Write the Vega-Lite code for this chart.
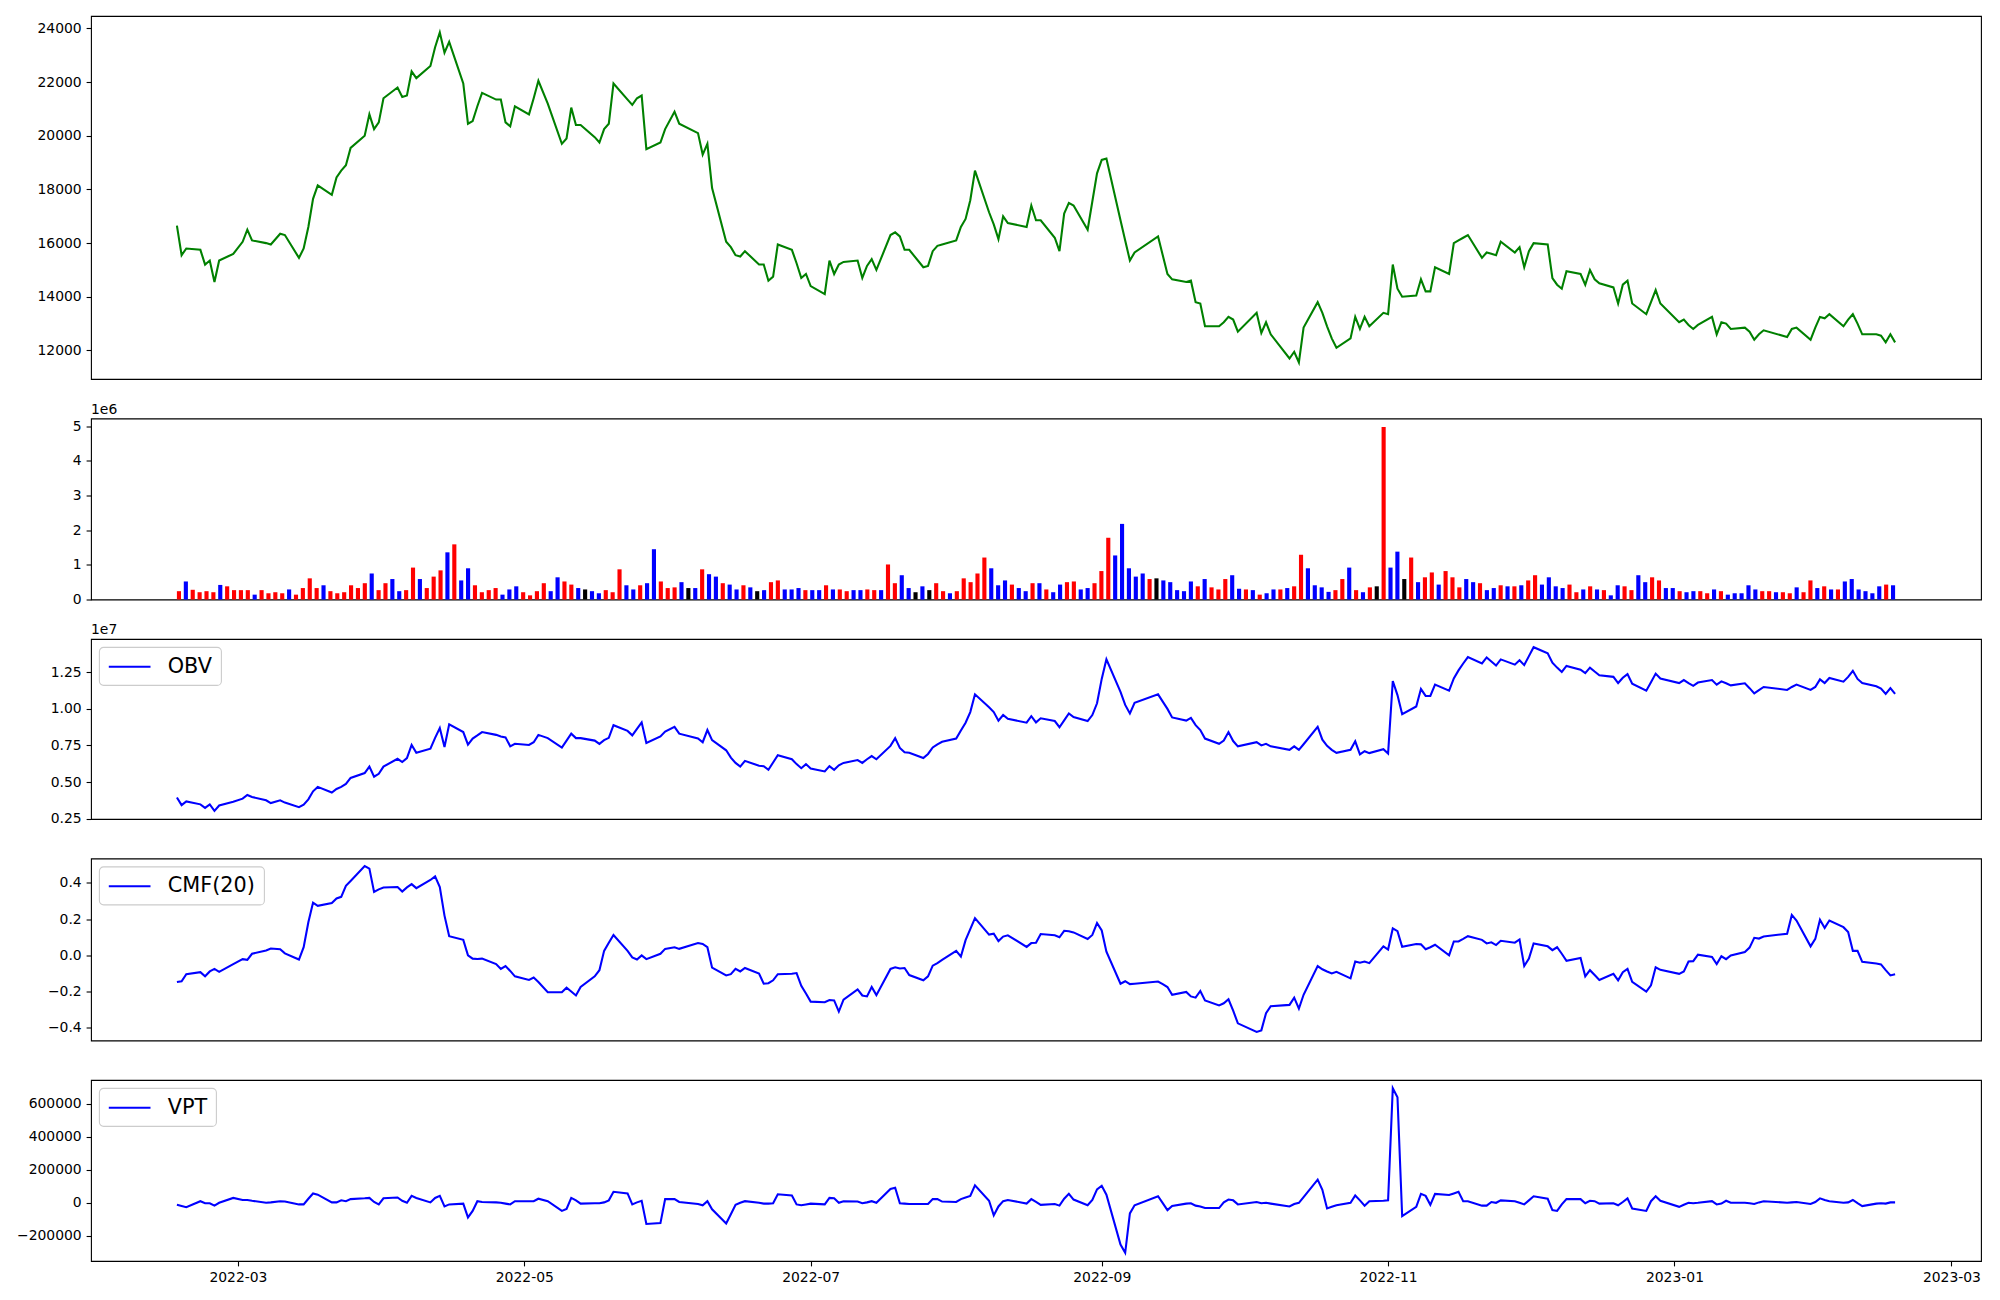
{
"$schema":"https://vega.github.io/schema/vega-lite/v6.json",
"background":"white",
"padding":{"left":15,"top":15,"right":20,"bottom":10},
"config":{
"font":"DejaVu Sans",
"view":{"stroke":"black","strokeWidth":1.1},
"axis":{"labelFont":"DejaVu Sans","labelFontSize":13.9,"labelColor":"black","tickColor":"black","tickSize":4.9,"tickWidth":1.1,"labelPadding":4.9,"domain":false,"grid":false,"title":null},
"legend":{"title":null,"orient":"top-left","offset":8.2,"padding":8.3,"fillColor":"rgba(255,255,255,0.8)","strokeColor":"#cccccc","strokeWidth":1.1,"cornerRadius":4.2,"symbolType":"M-1,0H3.17","symbolSize":400,"symbolStrokeWidth":2.08,"labelFontSize":20.8,"labelFont":"DejaVu Sans","labelColor":"black","labelOffset":37.4},
"title":{"font":"DejaVu Sans","fontSize":13.9,"fontWeight":"normal","color":"black","anchor":"start","frame":"group","baseline":"bottom","offset":2}
},
"data":{"values":[
{"date":"2022-02-16","close":16650,"volume":240000,"candle":"up","obv":3960000,"cmf":-0.148,"vpt":-12300},
{"date":"2022-02-17","close":15550,"volume":520000,"candle":"down","obv":3440000,"cmf":-0.144,"vpt":-19700},
{"date":"2022-02-18","close":15800,"volume":280000,"candle":"up","obv":3690000,"cmf":-0.105,"vpt":-27000},
{"date":"2022-02-21","close":15750,"volume":210000,"candle":"up","obv":3490000,"cmf":-0.094,"vpt":9800},
{"date":"2022-02-22","close":15200,"volume":240000,"candle":"up","obv":3250000,"cmf":-0.117,"vpt":-2500},
{"date":"2022-02-23","close":15350,"volume":210000,"candle":"up","obv":3490000,"cmf":-0.090,"vpt":-2500},
{"date":"2022-02-24","close":14550,"volume":420000,"candle":"down","obv":3050000,"cmf":-0.076,"vpt":-17200},
{"date":"2022-02-25","close":15350,"volume":380000,"candle":"up","obv":3410000,"cmf":-0.092,"vpt":0},
{"date":"2022-02-28","close":15600,"volume":270000,"candle":"up","obv":3660000,"cmf":-0.049,"vpt":29500},
{"date":"2022-03-02","close":16050,"volume":270000,"candle":"up","obv":3880000,"cmf":-0.022,"vpt":17200},
{"date":"2022-03-03","close":16500,"volume":270000,"candle":"up","obv":4130000,"cmf":-0.026,"vpt":17200},
{"date":"2022-03-04","close":16100,"volume":140000,"candle":"down","obv":3990000,"cmf":0.008,"vpt":12300},
{"date":"2022-03-07","close":16000,"volume":270000,"candle":"up","obv":3770000,"cmf":0.026,"vpt":0},
{"date":"2022-03-08","close":15950,"volume":180000,"candle":"up","obv":3580000,"cmf":0.037,"vpt":2500},
{"date":"2022-03-10","close":16350,"volume":210000,"candle":"up","obv":3770000,"cmf":0.033,"vpt":9800},
{"date":"2022-03-11","close":16300,"volume":180000,"candle":"up","obv":3610000,"cmf":0.010,"vpt":7400},
{"date":"2022-03-14","close":15450,"volume":290000,"candle":"down","obv":3300000,"cmf":-0.024,"vpt":-9800},
{"date":"2022-03-15","close":15800,"volume":140000,"candle":"up","obv":3470000,"cmf":0.044,"vpt":-9800},
{"date":"2022-03-16","close":16600,"volume":330000,"candle":"up","obv":3830000,"cmf":0.182,"vpt":24600},
{"date":"2022-03-17","close":17650,"volume":610000,"candle":"up","obv":4380000,"cmf":0.291,"vpt":56600},
{"date":"2022-03-18","close":18150,"volume":330000,"candle":"up","obv":4680000,"cmf":0.273,"vpt":49200},
{"date":"2022-03-21","close":17800,"volume":410000,"candle":"down","obv":4300000,"cmf":0.289,"vpt":2500},
{"date":"2022-03-22","close":18450,"volume":240000,"candle":"up","obv":4540000,"cmf":0.314,"vpt":2500},
{"date":"2022-03-23","close":18700,"volume":180000,"candle":"up","obv":4680000,"cmf":0.323,"vpt":14800},
{"date":"2022-03-24","close":18900,"volume":210000,"candle":"up","obv":4880000,"cmf":0.384,"vpt":9800},
{"date":"2022-03-25","close":19550,"volume":410000,"candle":"up","obv":5290000,"cmf":0.411,"vpt":22200},
{"date":"2022-03-28","close":20000,"volume":330000,"candle":"up","obv":5620000,"cmf":0.493,"vpt":27100},
{"date":"2022-03-29","close":20800,"volume":470000,"candle":"up","obv":6060000,"cmf":0.479,"vpt":29500},
{"date":"2022-03-30","close":20250,"volume":750000,"candle":"down","obv":5370000,"cmf":0.350,"vpt":4900},
{"date":"2022-03-31","close":20500,"volume":270000,"candle":"up","obv":5570000,"cmf":0.364,"vpt":-9800},
{"date":"2022-04-01","close":21400,"volume":470000,"candle":"up","obv":6060000,"cmf":0.375,"vpt":27100},
{"date":"2022-04-04","close":21800,"volume":590000,"candle":"down","obv":6590000,"cmf":0.377,"vpt":32000},
{"date":"2022-04-05","close":21450,"volume":240000,"candle":"down","obv":6370000,"cmf":0.352,"vpt":12300},
{"date":"2022-04-06","close":21500,"volume":270000,"candle":"up","obv":6640000,"cmf":0.375,"vpt":0},
{"date":"2022-04-07","close":22400,"volume":920000,"candle":"up","obv":7530000,"cmf":0.393,"vpt":41800},
{"date":"2022-04-08","close":22150,"volume":590000,"candle":"down","obv":7000000,"cmf":0.371,"vpt":29500},
{"date":"2022-04-11","close":22600,"volume":330000,"candle":"up","obv":7280000,"cmf":0.416,"vpt":2500},
{"date":"2022-04-12","close":23300,"volume":660000,"candle":"up","obv":8020000,"cmf":0.436,"vpt":29500},
{"date":"2022-04-13","close":23850,"volume":840000,"candle":"up","obv":8690000,"cmf":0.377,"vpt":41800},
{"date":"2022-04-14","close":23100,"volume":1360000,"candle":"down","obv":7390000,"cmf":0.219,"vpt":-22200},
{"date":"2022-04-15","close":23500,"volume":1590000,"candle":"up","obv":8940000,"cmf":0.105,"vpt":-9800},
{"date":"2022-04-18","close":21950,"volume":550000,"candle":"down","obv":8410000,"cmf":0.085,"vpt":-4900},
{"date":"2022-04-19","close":20450,"volume":900000,"candle":"down","obv":7560000,"cmf":-0.001,"vpt":-88600},
{"date":"2022-04-20","close":20550,"volume":410000,"candle":"up","obv":7970000,"cmf":-0.019,"vpt":-49200},
{"date":"2022-04-21","close":21100,"volume":210000,"candle":"up","obv":8180000,"cmf":-0.021,"vpt":9800},
{"date":"2022-04-22","close":21600,"volume":270000,"candle":"up","obv":8410000,"cmf":-0.019,"vpt":4900},
{"date":"2022-04-25","close":21350,"volume":330000,"candle":"up","obv":8220000,"cmf":-0.049,"vpt":2500},
{"date":"2022-04-26","close":21350,"volume":140000,"candle":"down","obv":8110000,"cmf":-0.076,"vpt":0},
{"date":"2022-04-27","close":20500,"volume":290000,"candle":"down","obv":8050000,"cmf":-0.060,"vpt":-4900},
{"date":"2022-04-28","close":20350,"volume":380000,"candle":"down","obv":7440000,"cmf":-0.087,"vpt":-9800},
{"date":"2022-04-29","close":21100,"volume":210000,"candle":"up","obv":7610000,"cmf":-0.117,"vpt":9800},
{"date":"2022-05-02","close":20800,"volume":120000,"candle":"up","obv":7530000,"cmf":-0.137,"vpt":9800},
{"date":"2022-05-03","close":21400,"volume":240000,"candle":"up","obv":7720000,"cmf":-0.124,"vpt":9800},
{"date":"2022-05-04","close":22050,"volume":470000,"candle":"up","obv":8220000,"cmf":-0.148,"vpt":24600},
{"date":"2022-05-06","close":21200,"volume":240000,"candle":"down","obv":8000000,"cmf":-0.205,"vpt":9800},
{"date":"2022-05-09","close":19700,"volume":640000,"candle":"down","obv":7360000,"cmf":-0.205,"vpt":-49200},
{"date":"2022-05-10","close":19900,"volume":520000,"candle":"up","obv":7830000,"cmf":-0.180,"vpt":-36900},
{"date":"2022-05-11","close":21050,"volume":430000,"candle":"up","obv":8300000,"cmf":-0.201,"vpt":29500},
{"date":"2022-05-12","close":20400,"volume":330000,"candle":"down","obv":8000000,"cmf":-0.223,"vpt":14800},
{"date":"2022-05-13","close":20400,"volume":290000,"candle":"flat","obv":8000000,"cmf":-0.176,"vpt":-4900},
{"date":"2022-05-16","close":19950,"volume":240000,"candle":"down","obv":7830000,"cmf":-0.117,"vpt":-2500},
{"date":"2022-05-17","close":19750,"volume":180000,"candle":"down","obv":7610000,"cmf":-0.083,"vpt":-2500},
{"date":"2022-05-18","close":20250,"volume":270000,"candle":"up","obv":7860000,"cmf":0.024,"vpt":2500},
{"date":"2022-05-19","close":20450,"volume":210000,"candle":"up","obv":8020000,"cmf":0.069,"vpt":14800},
{"date":"2022-05-20","close":21950,"volume":870000,"candle":"up","obv":8880000,"cmf":0.112,"vpt":66500},
{"date":"2022-05-23","close":21350,"volume":410000,"candle":"down","obv":8490000,"cmf":0.024,"vpt":56600},
{"date":"2022-05-24","close":21150,"volume":290000,"candle":"down","obv":8190000,"cmf":-0.012,"vpt":-9800},
{"date":"2022-05-25","close":21400,"volume":410000,"candle":"up","obv":8630000,"cmf":-0.024,"vpt":2500},
{"date":"2022-05-26","close":21500,"volume":470000,"candle":"down","obv":9070000,"cmf":-0.001,"vpt":12300},
{"date":"2022-05-27","close":19500,"volume":1450000,"candle":"down","obv":7670000,"cmf":-0.022,"vpt":-128000},
{"date":"2022-05-30","close":19750,"volume":520000,"candle":"up","obv":8110000,"cmf":0.008,"vpt":-123000},
{"date":"2022-05-31","close":20250,"volume":330000,"candle":"up","obv":8440000,"cmf":0.035,"vpt":22200},
{"date":"2022-06-02","close":20900,"volume":350000,"candle":"up","obv":8770000,"cmf":0.044,"vpt":22200},
{"date":"2022-06-03","close":20450,"volume":500000,"candle":"down","obv":8300000,"cmf":0.035,"vpt":4900},
{"date":"2022-06-07","close":20100,"volume":330000,"candle":"flat","obv":7970000,"cmf":0.067,"vpt":-7400},
{"date":"2022-06-08","close":19300,"volume":330000,"candle":"down","obv":7720000,"cmf":0.062,"vpt":-14800},
{"date":"2022-06-09","close":19700,"volume":870000,"candle":"up","obv":8550000,"cmf":0.044,"vpt":9800},
{"date":"2022-06-10","close":18050,"volume":730000,"candle":"down","obv":7860000,"cmf":-0.069,"vpt":-39400},
{"date":"2022-06-13","close":16050,"volume":660000,"candle":"down","obv":7170000,"cmf":-0.112,"vpt":-125500},
{"date":"2022-06-14","close":15850,"volume":470000,"candle":"up","obv":6670000,"cmf":-0.105,"vpt":-68900},
{"date":"2022-06-15","close":15550,"volume":430000,"candle":"down","obv":6310000,"cmf":-0.076,"vpt":-12300},
{"date":"2022-06-16","close":15500,"volume":290000,"candle":"down","obv":6060000,"cmf":-0.090,"vpt":0},
{"date":"2022-06-17","close":15700,"volume":410000,"candle":"up","obv":6450000,"cmf":-0.071,"vpt":9800},
{"date":"2022-06-20","close":15200,"volume":350000,"candle":"down","obv":6120000,"cmf":-0.101,"vpt":0},
{"date":"2022-06-21","close":15200,"volume":240000,"candle":"flat","obv":6090000,"cmf":-0.158,"vpt":-4900},
{"date":"2022-06-22","close":14600,"volume":270000,"candle":"down","obv":5840000,"cmf":-0.155,"vpt":-4900},
{"date":"2022-06-23","close":14750,"volume":500000,"candle":"up","obv":6340000,"cmf":-0.139,"vpt":-2500},
{"date":"2022-06-24","close":15950,"volume":550000,"candle":"up","obv":6840000,"cmf":-0.105,"vpt":51700},
{"date":"2022-06-27","close":15750,"volume":290000,"candle":"down","obv":6560000,"cmf":-0.103,"vpt":44300},
{"date":"2022-06-28","close":15250,"volume":290000,"candle":"down","obv":6230000,"cmf":-0.099,"vpt":-9800},
{"date":"2022-06-29","close":14700,"volume":330000,"candle":"down","obv":5950000,"cmf":-0.169,"vpt":-14800},
{"date":"2022-06-30","close":14850,"volume":270000,"candle":"up","obv":6230000,"cmf":-0.212,"vpt":-9800},
{"date":"2022-07-01","close":14400,"volume":270000,"candle":"down","obv":5930000,"cmf":-0.257,"vpt":-4900},
{"date":"2022-07-04","close":14100,"volume":270000,"candle":"down","obv":5730000,"cmf":-0.260,"vpt":-9800},
{"date":"2022-07-05","close":15350,"volume":410000,"candle":"up","obv":6090000,"cmf":-0.248,"vpt":29500},
{"date":"2022-07-06","close":14850,"volume":290000,"candle":"down","obv":5840000,"cmf":-0.250,"vpt":27100},
{"date":"2022-07-07","close":15200,"volume":290000,"candle":"up","obv":6150000,"cmf":-0.312,"vpt":0},
{"date":"2022-07-08","close":15300,"volume":240000,"candle":"up","obv":6310000,"cmf":-0.246,"vpt":9800},
{"date":"2022-07-11","close":15350,"volume":270000,"candle":"down","obv":6510000,"cmf":-0.189,"vpt":7400},
{"date":"2022-07-12","close":14700,"volume":270000,"candle":"down","obv":6310000,"cmf":-0.223,"vpt":-2500},
{"date":"2022-07-13","close":15150,"volume":290000,"candle":"up","obv":6560000,"cmf":-0.228,"vpt":2500},
{"date":"2022-07-14","close":15400,"volume":270000,"candle":"up","obv":6780000,"cmf":-0.176,"vpt":9800},
{"date":"2022-07-15","close":15000,"volume":270000,"candle":"down","obv":6560000,"cmf":-0.221,"vpt":0},
{"date":"2022-07-18","close":16300,"volume":1010000,"candle":"up","obv":7470000,"cmf":-0.076,"vpt":83700},
{"date":"2022-07-19","close":16400,"volume":470000,"candle":"up","obv":8000000,"cmf":-0.067,"vpt":91100},
{"date":"2022-07-20","close":16250,"volume":700000,"candle":"down","obv":7330000,"cmf":-0.074,"vpt":-2500},
{"date":"2022-07-21","close":15750,"volume":330000,"candle":"down","obv":7030000,"cmf":-0.071,"vpt":-4900},
{"date":"2022-07-22","close":15750,"volume":210000,"candle":"flat","obv":7000000,"cmf":-0.110,"vpt":-7400},
{"date":"2022-07-25","close":15100,"volume":380000,"candle":"down","obv":6640000,"cmf":-0.139,"vpt":-7400},
{"date":"2022-07-26","close":15150,"volume":270000,"candle":"flat","obv":6920000,"cmf":-0.117,"vpt":-7400},
{"date":"2022-07-27","close":15700,"volume":470000,"candle":"up","obv":7360000,"cmf":-0.058,"vpt":22200},
{"date":"2022-07-28","close":15900,"volume":240000,"candle":"up","obv":7580000,"cmf":-0.044,"vpt":22200},
{"date":"2022-07-29","close":15950,"volume":180000,"candle":"down","obv":7750000,"cmf":-0.026,"vpt":7400},
{"date":"2022-08-01","close":16100,"volume":240000,"candle":"up","obv":7970000,"cmf":0.024,"vpt":4900},
{"date":"2022-08-02","close":16600,"volume":610000,"candle":"up","obv":8520000,"cmf":-0.008,"vpt":22200},
{"date":"2022-08-03","close":16900,"volume":500000,"candle":"up","obv":9050000,"cmf":0.083,"vpt":32000},
{"date":"2022-08-04","close":17600,"volume":750000,"candle":"up","obv":9770000,"cmf":0.144,"vpt":41800},
{"date":"2022-08-05","close":18700,"volume":1210000,"candle":"up","obv":10980000,"cmf":0.205,"vpt":105800},
{"date":"2022-08-08","close":17150,"volume":900000,"candle":"down","obv":10100000,"cmf":0.114,"vpt":12300},
{"date":"2022-08-09","close":16700,"volume":410000,"candle":"down","obv":9770000,"cmf":0.119,"vpt":-76300},
{"date":"2022-08-10","close":16150,"volume":550000,"candle":"down","obv":9190000,"cmf":0.078,"vpt":-22200},
{"date":"2022-08-11","close":17000,"volume":430000,"candle":"up","obv":9570000,"cmf":0.103,"vpt":9800},
{"date":"2022-08-12","close":16750,"volume":330000,"candle":"down","obv":9320000,"cmf":0.110,"vpt":17200},
{"date":"2022-08-16","close":16600,"volume":240000,"candle":"down","obv":9050000,"cmf":0.046,"vpt":-4900},
{"date":"2022-08-17","close":17400,"volume":470000,"candle":"up","obv":9490000,"cmf":0.067,"vpt":22200},
{"date":"2022-08-18","close":16850,"volume":470000,"candle":"down","obv":9070000,"cmf":0.069,"vpt":4900},
{"date":"2022-08-19","close":16850,"volume":290000,"candle":"up","obv":9350000,"cmf":0.117,"vpt":-12300},
{"date":"2022-08-22","close":16200,"volume":210000,"candle":"down","obv":9160000,"cmf":0.110,"vpt":-7400},
{"date":"2022-08-23","close":15700,"volume":430000,"candle":"down","obv":8740000,"cmf":0.099,"vpt":-17200},
{"date":"2022-08-24","close":17100,"volume":500000,"candle":"up","obv":9210000,"cmf":0.135,"vpt":24600},
{"date":"2022-08-25","close":17500,"volume":520000,"candle":"up","obv":9680000,"cmf":0.133,"vpt":54200},
{"date":"2022-08-26","close":17400,"volume":290000,"candle":"down","obv":9430000,"cmf":0.126,"vpt":19700},
{"date":"2022-08-29","close":16500,"volume":330000,"candle":"down","obv":9160000,"cmf":0.090,"vpt":-14800},
{"date":"2022-08-30","close":17550,"volume":470000,"candle":"up","obv":9570000,"cmf":0.112,"vpt":17200},
{"date":"2022-08-31","close":18600,"volume":820000,"candle":"up","obv":10370000,"cmf":0.178,"vpt":81200},
{"date":"2022-09-01","close":19100,"volume":1780000,"candle":"up","obv":12030000,"cmf":0.137,"vpt":103400},
{"date":"2022-09-02","close":19150,"volume":1270000,"candle":"down","obv":13360000,"cmf":0.019,"vpt":49200},
{"date":"2022-09-05","close":16850,"volume":2180000,"candle":"down","obv":11150000,"cmf":-0.158,"vpt":-253500},
{"date":"2022-09-06","close":16100,"volume":900000,"candle":"down","obv":10260000,"cmf":-0.144,"vpt":-302800},
{"date":"2022-09-07","close":15350,"volume":660000,"candle":"down","obv":9680000,"cmf":-0.160,"vpt":-64000},
{"date":"2022-09-08","close":15650,"volume":750000,"candle":"down","obv":10400000,"cmf":-0.158,"vpt":-14800},
{"date":"2022-09-13","close":16250,"volume":590000,"candle":"up","obv":10980000,"cmf":-0.146,"vpt":39400},
{"date":"2022-09-14","close":15550,"volume":610000,"candle":"flat","obv":10480000,"cmf":-0.160,"vpt":-2500},
{"date":"2022-09-15","close":14850,"volume":550000,"candle":"down","obv":9990000,"cmf":-0.176,"vpt":-44300},
{"date":"2022-09-16","close":14650,"volume":500000,"candle":"down","obv":9410000,"cmf":-0.219,"vpt":-19700},
{"date":"2022-09-19","close":14550,"volume":270000,"candle":"down","obv":9190000,"cmf":-0.203,"vpt":-4900},
{"date":"2022-09-20","close":14600,"volume":240000,"candle":"down","obv":9380000,"cmf":-0.228,"vpt":-2500},
{"date":"2022-09-21","close":13800,"volume":520000,"candle":"down","obv":8880000,"cmf":-0.235,"vpt":-17200},
{"date":"2022-09-22","close":13750,"volume":380000,"candle":"up","obv":8550000,"cmf":-0.198,"vpt":-22200},
{"date":"2022-09-23","close":12900,"volume":590000,"candle":"down","obv":7970000,"cmf":-0.250,"vpt":-32000},
{"date":"2022-09-26","close":12900,"volume":350000,"candle":"up","obv":7610000,"cmf":-0.278,"vpt":-32000},
{"date":"2022-09-27","close":13050,"volume":290000,"candle":"up","obv":7830000,"cmf":-0.266,"vpt":2500},
{"date":"2022-09-28","close":13250,"volume":590000,"candle":"up","obv":8410000,"cmf":-0.244,"vpt":19700},
{"date":"2022-09-29","close":13150,"volume":700000,"candle":"down","obv":7800000,"cmf":-0.307,"vpt":14800},
{"date":"2022-09-30","close":12700,"volume":310000,"candle":"down","obv":7440000,"cmf":-0.377,"vpt":-9800},
{"date":"2022-10-04","close":13400,"volume":290000,"candle":"up","obv":7720000,"cmf":-0.425,"vpt":4900},
{"date":"2022-10-05","close":12650,"volume":270000,"candle":"down","obv":7500000,"cmf":-0.416,"vpt":-2500},
{"date":"2022-10-06","close":13050,"volume":140000,"candle":"up","obv":7610000,"cmf":-0.321,"vpt":0},
{"date":"2022-10-07","close":12600,"volume":180000,"candle":"down","obv":7440000,"cmf":-0.282,"vpt":-4900},
{"date":"2022-10-11","close":11700,"volume":290000,"candle":"down","obv":7200000,"cmf":-0.275,"vpt":-22200},
{"date":"2022-10-12","close":11950,"volume":290000,"candle":"up","obv":7440000,"cmf":-0.235,"vpt":-7400},
{"date":"2022-10-13","close":11550,"volume":330000,"candle":"down","obv":7200000,"cmf":-0.296,"vpt":0},
{"date":"2022-10-14","close":12850,"volume":380000,"candle":"up","obv":7580000,"cmf":-0.219,"vpt":34500},
{"date":"2022-10-17","close":13800,"volume":1290000,"candle":"up","obv":8770000,"cmf":-0.060,"vpt":140300},
{"date":"2022-10-18","close":13400,"volume":900000,"candle":"down","obv":7890000,"cmf":-0.078,"vpt":78800},
{"date":"2022-10-19","close":12900,"volume":410000,"candle":"down","obv":7470000,"cmf":-0.090,"vpt":-34500},
{"date":"2022-10-20","close":12450,"volume":350000,"candle":"down","obv":7200000,"cmf":-0.101,"vpt":-24600},
{"date":"2022-10-21","close":12100,"volume":220000,"candle":"down","obv":7000000,"cmf":-0.092,"vpt":-14800},
{"date":"2022-10-24","close":12450,"volume":270000,"candle":"up","obv":7200000,"cmf":-0.128,"vpt":0},
{"date":"2022-10-25","close":13250,"volume":590000,"candle":"up","obv":7780000,"cmf":-0.035,"vpt":44300},
{"date":"2022-10-26","close":12800,"volume":920000,"candle":"down","obv":6890000,"cmf":-0.042,"vpt":14800},
{"date":"2022-10-27","close":13250,"volume":270000,"candle":"up","obv":7110000,"cmf":-0.035,"vpt":-17200},
{"date":"2022-10-28","close":12900,"volume":210000,"candle":"down","obv":6980000,"cmf":-0.044,"vpt":9800},
{"date":"2022-10-31","close":13400,"volume":350000,"candle":"up","obv":7250000,"cmf":0.049,"vpt":12300},
{"date":"2022-11-01","close":13350,"volume":380000,"candle":"flat","obv":6950000,"cmf":0.031,"vpt":14800},
{"date":"2022-11-02","close":15200,"volume":4970000,"candle":"up","obv":11890000,"cmf":0.148,"vpt":694100},
{"date":"2022-11-03","close":14300,"volume":920000,"candle":"down","obv":10930000,"cmf":0.133,"vpt":640000},
{"date":"2022-11-04","close":14000,"volume":1380000,"candle":"down","obv":9630000,"cmf":0.046,"vpt":-81200},
{"date":"2022-11-07","close":14050,"volume":590000,"candle":"flat","obv":10150000,"cmf":0.062,"vpt":-24600},
{"date":"2022-11-08","close":14650,"volume":1210000,"candle":"up","obv":11340000,"cmf":0.060,"vpt":54200},
{"date":"2022-11-09","close":14200,"volume":500000,"candle":"down","obv":10870000,"cmf":0.033,"vpt":41800},
{"date":"2022-11-10","close":14200,"volume":640000,"candle":"up","obv":10870000,"cmf":0.044,"vpt":-12300},
{"date":"2022-11-11","close":15100,"volume":780000,"candle":"up","obv":11640000,"cmf":0.058,"vpt":54200},
{"date":"2022-11-14","close":14850,"volume":430000,"candle":"down","obv":11230000,"cmf":-0.001,"vpt":46800},
{"date":"2022-11-15","close":16000,"volume":820000,"candle":"up","obv":12060000,"cmf":0.076,"vpt":56600},
{"date":"2022-11-16","close":16100,"volume":640000,"candle":"up","obv":12610000,"cmf":0.076,"vpt":66500},
{"date":"2022-11-17","close":16200,"volume":350000,"candle":"up","obv":13080000,"cmf":0.090,"vpt":9800},
{"date":"2022-11-18","close":16300,"volume":590000,"candle":"down","obv":13520000,"cmf":0.105,"vpt":9800},
{"date":"2022-11-21","close":15450,"volume":500000,"candle":"down","obv":13080000,"cmf":0.085,"vpt":-17200},
{"date":"2022-11-22","close":15650,"volume":470000,"candle":"up","obv":13490000,"cmf":0.065,"vpt":-17200},
{"date":"2022-11-23","close":15600,"volume":270000,"candle":"down","obv":13220000,"cmf":0.071,"vpt":4900},
{"date":"2022-11-24","close":15550,"volume":330000,"candle":"down","obv":12940000,"cmf":0.056,"vpt":0},
{"date":"2022-11-25","close":16050,"volume":410000,"candle":"up","obv":13360000,"cmf":0.080,"vpt":14800},
{"date":"2022-11-28","close":15650,"volume":380000,"candle":"down","obv":13000000,"cmf":0.069,"vpt":9800},
{"date":"2022-11-29","close":15850,"volume":380000,"candle":"up","obv":13300000,"cmf":0.087,"vpt":0},
{"date":"2022-11-30","close":15100,"volume":410000,"candle":"down","obv":12970000,"cmf":-0.060,"vpt":-9800},
{"date":"2022-12-01","close":15700,"volume":550000,"candle":"up","obv":13580000,"cmf":-0.019,"vpt":14800},
{"date":"2022-12-02","close":16000,"volume":700000,"candle":"up","obv":14190000,"cmf":0.065,"vpt":39400},
{"date":"2022-12-05","close":15950,"volume":430000,"candle":"down","obv":13770000,"cmf":0.049,"vpt":24600},
{"date":"2022-12-06","close":14700,"volume":640000,"candle":"down","obv":13140000,"cmf":0.028,"vpt":-44300},
{"date":"2022-12-07","close":14450,"volume":380000,"candle":"down","obv":12800000,"cmf":0.044,"vpt":-49200},
{"date":"2022-12-08","close":14300,"volume":330000,"candle":"down","obv":12500000,"cmf":0.008,"vpt":-9800},
{"date":"2022-12-09","close":14950,"volume":430000,"candle":"up","obv":12910000,"cmf":-0.031,"vpt":22200},
{"date":"2022-12-12","close":14850,"volume":210000,"candle":"up","obv":12660000,"cmf":-0.015,"vpt":22200},
{"date":"2022-12-13","close":14450,"volume":290000,"candle":"down","obv":12420000,"cmf":-0.117,"vpt":-2500},
{"date":"2022-12-14","close":15000,"volume":380000,"candle":"up","obv":12800000,"cmf":-0.083,"vpt":12300},
{"date":"2022-12-15","close":14650,"volume":290000,"candle":"down","obv":12530000,"cmf":-0.110,"vpt":9800},
{"date":"2022-12-16","close":14500,"volume":270000,"candle":"up","obv":12280000,"cmf":-0.137,"vpt":-4900},
{"date":"2022-12-19","close":14350,"volume":120000,"candle":"down","obv":12170000,"cmf":-0.103,"vpt":-2500},
{"date":"2022-12-20","close":13750,"volume":410000,"candle":"down","obv":11750000,"cmf":-0.139,"vpt":-14800},
{"date":"2022-12-21","close":14450,"volume":380000,"candle":"up","obv":12110000,"cmf":-0.094,"vpt":4900},
{"date":"2022-12-22","close":14600,"volume":270000,"candle":"up","obv":12360000,"cmf":-0.076,"vpt":27100},
{"date":"2022-12-23","close":13750,"volume":700000,"candle":"down","obv":11700000,"cmf":-0.148,"vpt":-34500},
{"date":"2022-12-26","close":13350,"volume":500000,"candle":"down","obv":11230000,"cmf":-0.201,"vpt":-49200},
{"date":"2022-12-27","close":13800,"volume":640000,"candle":"up","obv":11810000,"cmf":-0.167,"vpt":9800},
{"date":"2022-12-28","close":14250,"volume":550000,"candle":"up","obv":12390000,"cmf":-0.067,"vpt":39400},
{"date":"2022-12-29","close":13750,"volume":330000,"candle":"down","obv":12060000,"cmf":-0.081,"vpt":12300},
{"date":"2023-01-02","close":13050,"volume":330000,"candle":"down","obv":11750000,"cmf":-0.103,"vpt":-24600},
{"date":"2023-01-03","close":13150,"volume":240000,"candle":"up","obv":11950000,"cmf":-0.090,"vpt":-12300},
{"date":"2023-01-04","close":12950,"volume":210000,"candle":"down","obv":11750000,"cmf":-0.035,"vpt":0},
{"date":"2023-01-05","close":12800,"volume":240000,"candle":"down","obv":11560000,"cmf":-0.033,"vpt":-2500},
{"date":"2023-01-06","close":12950,"volume":240000,"candle":"up","obv":11780000,"cmf":0.003,"vpt":0},
{"date":"2023-01-09","close":13250,"volume":180000,"candle":"up","obv":11950000,"cmf":-0.010,"vpt":9800},
{"date":"2023-01-10","close":12600,"volume":290000,"candle":"down","obv":11640000,"cmf":-0.049,"vpt":-9800},
{"date":"2023-01-11","close":13050,"volume":240000,"candle":"up","obv":11860000,"cmf":-0.006,"vpt":-4900},
{"date":"2023-01-12","close":13000,"volume":140000,"candle":"down","obv":11730000,"cmf":-0.022,"vpt":12300},
{"date":"2023-01-13","close":12800,"volume":180000,"candle":"down","obv":11590000,"cmf":-0.001,"vpt":0},
{"date":"2023-01-16","close":12850,"volume":180000,"candle":"down","obv":11730000,"cmf":0.017,"vpt":0},
{"date":"2023-01-17","close":12700,"volume":410000,"candle":"down","obv":11400000,"cmf":0.042,"vpt":-2500},
{"date":"2023-01-18","close":12400,"volume":290000,"candle":"down","obv":11040000,"cmf":0.096,"vpt":-7400},
{"date":"2023-01-19","close":12600,"volume":240000,"candle":"up","obv":11260000,"cmf":0.092,"vpt":2500},
{"date":"2023-01-20","close":12750,"volume":240000,"candle":"up","obv":11480000,"cmf":0.103,"vpt":9800},
{"date":"2023-01-25","close":12500,"volume":210000,"candle":"down","obv":11280000,"cmf":0.119,"vpt":0},
{"date":"2023-01-26","close":12800,"volume":210000,"candle":"up","obv":11480000,"cmf":0.223,"vpt":2500},
{"date":"2023-01-27","close":12850,"volume":180000,"candle":"up","obv":11640000,"cmf":0.192,"vpt":4900},
{"date":"2023-01-30","close":12400,"volume":350000,"candle":"down","obv":11280000,"cmf":0.049,"vpt":-7400},
{"date":"2023-01-31","close":12850,"volume":210000,"candle":"up","obv":11480000,"cmf":0.090,"vpt":4900},
{"date":"2023-02-01","close":13250,"volume":550000,"candle":"up","obv":12000000,"cmf":0.196,"vpt":27100},
{"date":"2023-02-02","close":13200,"volume":330000,"candle":"down","obv":11750000,"cmf":0.151,"vpt":17200},
{"date":"2023-02-03","close":13350,"volume":380000,"candle":"up","obv":12090000,"cmf":0.192,"vpt":9800},
{"date":"2023-02-06","close":12900,"volume":290000,"candle":"down","obv":11840000,"cmf":0.155,"vpt":0},
{"date":"2023-02-07","close":13150,"volume":290000,"candle":"up","obv":12170000,"cmf":0.128,"vpt":2500},
{"date":"2023-02-08","close":13350,"volume":520000,"candle":"down","obv":12580000,"cmf":0.024,"vpt":17200},
{"date":"2023-02-09","close":13000,"volume":590000,"candle":"down","obv":12030000,"cmf":0.024,"vpt":-2500},
{"date":"2023-02-10","close":12600,"volume":290000,"candle":"down","obv":11750000,"cmf":-0.037,"vpt":-19700},
{"date":"2023-02-13","close":12600,"volume":240000,"candle":"down","obv":11530000,"cmf":-0.046,"vpt":-4900},
{"date":"2023-02-14","close":12550,"volume":180000,"candle":"down","obv":11370000,"cmf":-0.051,"vpt":-2500},
{"date":"2023-02-15","close":12300,"volume":380000,"candle":"down","obv":11010000,"cmf":-0.083,"vpt":-4900},
{"date":"2023-02-16","close":12600,"volume":430000,"candle":"up","obv":11400000,"cmf":-0.112,"vpt":2500},
{"date":"2023-02-17","close":12300,"volume":410000,"candle":"down","obv":11010000,"cmf":-0.105,"vpt":2500}
]},
"spacing":39.5,
"bounds":"flush",
"resolve":{"scale":{"x":"independent","y":"independent","color":"independent"},"legend":{"color":"independent"}},
"vconcat":[
{"width":1890,"height":363,
 "mark":{"type":"line","color":"#008000","strokeWidth":2.08},
 "encoding":{
  "x":{"field":"date","type":"temporal","scale":{"type":"utc","domain":[{"year":2022,"month":1,"date":28,"hours":16,"minutes":48,"utc":true},{"year":2023,"month":3,"date":7,"hours":7,"minutes":12,"utc":true}]},"axis":null},
  "y":{"field":"close","type":"quantitative","scale":{"domain":[10935,24465],"nice":false,"zero":false},"axis":{"values":[12000,14000,16000,18000,20000,22000,24000],"format":"d"}}
 }},
{"width":1890,"height":181,
 "title":{"text":"1e6"},
 "mark":{"type":"bar"},
 "encoding":{
  "x":{"field":"date","type":"ordinal","timeUnit":"utcyearmonthdate","scale":{"type":"band","paddingInner":0.4,"paddingOuter":0,"range":[85.9,1804.1]},"axis":null},
  "y":{"field":"volume","type":"quantitative","scale":{"domain":[0,5218500],"nice":false},"axis":{"values":[0,1000000,2000000,3000000,4000000,5000000],"labelExpr":"format(datum.value/1000000,'d')"}},
  "color":{"field":"candle","type":"nominal","scale":{"domain":["up","down","flat"],"range":["#ff0000","#0000ff","#000000"]},"legend":null}
 }},
{"width":1890,"height":180,
 "title":{"text":"1e7"},
 "mark":{"type":"line","strokeWidth":2.08},
 "encoding":{
  "x":{"field":"date","type":"temporal","scale":{"type":"utc","domain":[{"year":2022,"month":1,"date":28,"hours":16,"minutes":48,"utc":true},{"year":2023,"month":3,"date":7,"hours":7,"minutes":12,"utc":true}]},"axis":null},
  "y":{"field":"obv","type":"quantitative","scale":{"domain":[2493000,14747000],"nice":false,"zero":false},"axis":{"values":[2500000,5000000,7500000,10000000,12500000],"labelExpr":"format(datum.value/10000000,'.2f')"}},
  "color":{"datum":"OBV","type":"nominal","scale":{"range":["#0000ff"]}}
 }},
{"width":1890,"height":182,
 "mark":{"type":"line","strokeWidth":2.08},
 "encoding":{
  "x":{"field":"date","type":"temporal","scale":{"type":"utc","domain":[{"year":2022,"month":1,"date":28,"hours":16,"minutes":48,"utc":true},{"year":2023,"month":3,"date":7,"hours":7,"minutes":12,"utc":true}]},"axis":null},
  "y":{"field":"cmf","type":"quantitative","scale":{"domain":[-0.472,0.535],"nice":false,"zero":false},"axis":{"values":[-0.4,-0.2,0,0.2,0.4],"format":".1f"}},
  "color":{"datum":"CMF(20)","type":"nominal","scale":{"range":["#0000ff"]}}
 }},
{"width":1890,"height":181,
 "mark":{"type":"line","strokeWidth":2.08},
 "encoding":{
  "x":{"field":"date","type":"temporal","scale":{"type":"utc","domain":[{"year":2022,"month":1,"date":28,"hours":16,"minutes":48,"utc":true},{"year":2023,"month":3,"date":7,"hours":7,"minutes":12,"utc":true}]},
   "axis":{"values":[{"year":2022,"month":3,"date":1,"utc":true},{"year":2022,"month":5,"date":1,"utc":true},{"year":2022,"month":7,"date":1,"utc":true},{"year":2022,"month":9,"date":1,"utc":true},{"year":2022,"month":11,"date":1,"utc":true},{"year":2023,"month":1,"date":1,"utc":true},{"year":2023,"month":3,"date":1,"utc":true}],"labelExpr":"utcFormat(datum.value,'%Y-%m')","labelFlush":false,"labelOverlap":false}},
  "y":{"field":"vpt","type":"quantitative","scale":{"domain":[-352650,743945],"nice":false,"zero":false},"axis":{"values":[-200000,0,200000,400000,600000],"format":"d"}},
  "color":{"datum":"VPT","type":"nominal","scale":{"range":["#0000ff"]}}
 }}
]
}
